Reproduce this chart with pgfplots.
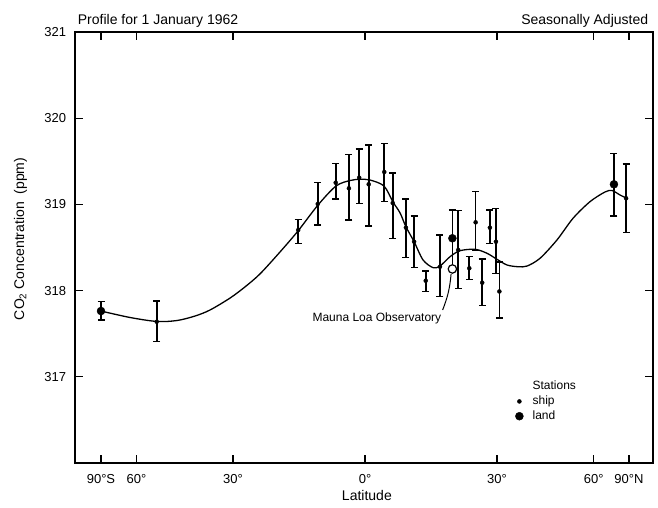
\documentclass[border=0pt]{standalone}
\usepackage{pgfplots}
\pgfplotsset{compat=1.18}
\usepackage{pgfplotstable}
\usepackage{fontspec}
\setmainfont{Liberation Sans}

% x is sine of latitude; y in ppm
\pgfplotstableread{
x y ep em
-0.789 317.639 0.240 0.232
-0.253 318.703 0.124 0.154
-0.179 319.005 0.247 0.244
-0.111 319.252 0.225 0.189
-0.061 319.187 0.394 0.368
-0.022 319.310 0.333 0.297
0.014 319.233 0.456 0.484
0.073 319.376 0.333 0.345
0.105 319.016 0.348 0.412
0.155 318.730 0.333 0.348
0.186 318.567 0.298 0.301
0.230 318.115 0.112 0.128
0.284 318.277 0.368 0.348
0.353 318.471 0.456 0.444
0.395 318.259 0.134 0.128
0.419 318.792 0.355 0.329
0.444 318.092 0.275 0.267
0.473 318.730 0.205 0.184
0.496 318.567 0.388 0.366
0.509 317.990 0.342 0.308
0.989 319.071 0.398 0.395
}\ship
\pgfplotstableread{
x y ep em
-1.000 317.763 0.108 0.104
0.331 318.607 0.328 0.345
0.943 319.233 0.360 0.368
}\land
\pgfplotstableread{
x y
-1.000 317.763
-0.890 317.688
-0.788 317.642
-0.712 317.653
-0.644 317.705
-0.587 317.775
-0.511 317.914
-0.455 318.042
-0.398 318.193
-0.322 318.448
-0.254 318.691
-0.178 318.993
-0.110 319.213
-0.057 319.277
-0.019 319.291
0.019 319.283
0.072 319.213
0.106 319.028
0.133 318.900
0.155 318.741
0.186 318.567
0.220 318.355
0.258 318.266
0.284 318.285
0.322 318.393
0.360 318.463
0.417 318.479
0.462 318.433
0.500 318.363
0.538 318.297
0.580 318.277
0.614 318.285
0.663 318.375
0.727 318.587
0.788 318.839
0.852 319.031
0.909 319.144
0.936 319.161
0.966 319.109
0.992 319.071
}\fit

\begin{document}
\fontsize{14}{16}\selectfont
\begin{tikzpicture}
\useasboundingbox (-75pt,-44pt) rectangle (583pt,463pt);
\begin{axis}[
  scale only axis, width=578pt, height=431pt,
  xmin=-1.0985, xmax=1.0909, ymin=316, ymax=321,
  clip=false,
  axis line style={line width=1.3pt},
  major tick style={line width=1.3pt,black},
  major tick length=8pt,
  tick align=inside,
  xtick={-1,-0.866,-0.5,0,0.5,0.866,1},
  xticklabels={90°S,60°,30°,0°,30°,60°,90°N},
  ytick={317,318,319,320,321},
  ticklabel style={font=\fontsize{13}{15}\selectfont},
  /pgf/number format/assume math mode=true,
  xticklabel style={anchor=base,yshift=-20pt},
  yticklabel style={xshift=-4pt},
  xlabel={Latitude},
  xlabel style={at={(axis description cs:0.505,-0.088)},anchor=base},
  ylabel={CO\textsubscript{2} Concentration\ \ (ppm)},
  ylabel style={at={(axis description cs:-0.0744,0.52)},anchor=south},
  legend style={draw=none,fill=none,at={(rel axis cs:0.7543,0.1995)},anchor=north west,
    font=\fontsize{12}{14}\selectfont,row sep=0pt,
    /tikz/every odd column/.append style={column sep=6pt}},
  legend cell align=left,
]
\addlegendimage{legend image code/.code={}}
\addlegendentry{Stations}
\addlegendimage{legend image code/.code={\path (-5pt,0) (5pt,0); \fill (0,0) circle (2pt);}}
\addlegendentry{ship}
\addlegendimage{legend image code/.code={\path (-5pt,0) (5pt,0); \fill (0,0) circle (4pt);}}
\addlegendentry{land}

\addplot[black,line width=1.3pt,smooth,forget plot] table[x=x,y=y] {\fit};

\addplot[black,only marks,mark=*,mark size=2pt,forget plot,
  error bars/.cd,y dir=both,y explicit,
  error bar style={line width=1.7pt},
  error mark options={line width=1.4pt,mark size=3.5pt,rotate=90}]
  table[x=x,y=y,y error plus=ep,y error minus=em] {\ship};

\addplot[black,only marks,mark=*,mark size=4pt,forget plot,
  error bars/.cd,y dir=both,y explicit,
  error bar style={line width=1.7pt},
  error mark options={line width=1.4pt,mark size=3.5pt,rotate=90}]
  table[x=x,y=y,y error plus=ep,y error minus=em] {\land};

% Mauna Loa Observatory
\addplot[black,only marks,mark=*,mark size=4.2pt,mark options={fill=white,line width=1.2pt},forget plot]
  coordinates {(0.331,318.251)};
\draw[line width=1pt] (axis cs:0.294,317.775) to[bend right=8] (axis cs:0.326,318.19);
\node[font=\fontsize{12}{14}\selectfont] at (axis cs:0.045,317.682) {Mauna Loa Observatory};

\node[anchor=base west,xshift=-2pt,yshift=7pt] at (rel axis cs:0,1) {Profile for 1 January 1962};
\node[anchor=base east,yshift=7pt] at (rel axis cs:1,1) {Seasonally Adjusted};
\end{axis}
\end{tikzpicture}
\end{document}
